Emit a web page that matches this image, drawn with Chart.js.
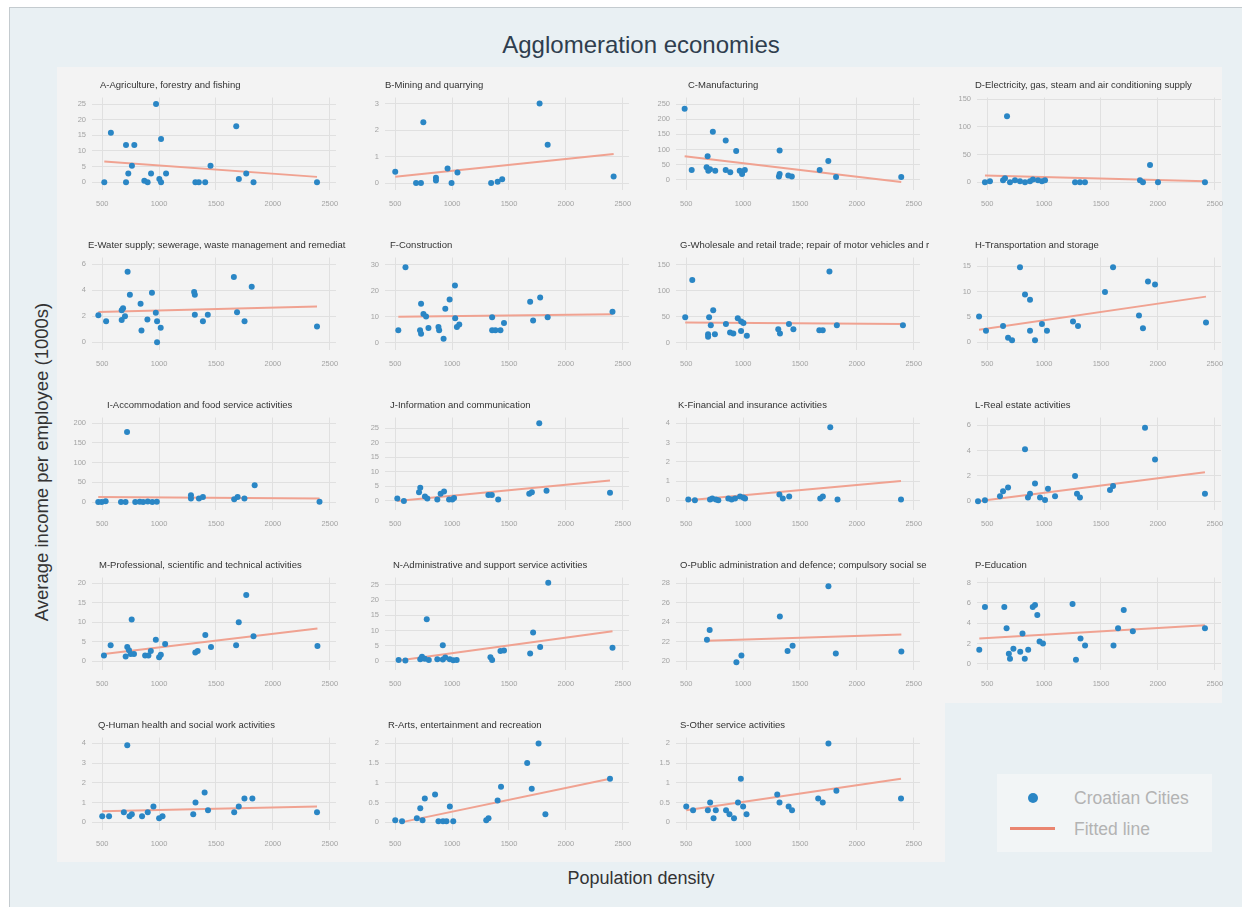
<!DOCTYPE html>
<html><head><meta charset="utf-8">
<script src="https://cdn.jsdelivr.net/npm/chart.js@4.4.0/dist/chart.umd.min.js"></script>
<style>
html,body{margin:0;padding:0;background:#fff;}
body{width:1242px;height:907px;position:relative;overflow:hidden;font-family:"Liberation Sans",Arial,sans-serif;}
#frame{position:absolute;left:9px;top:7px;right:0;bottom:0;background:#e9f0f3;border-left:1px solid #c4cbcf;border-top:1px solid #c4cbcf;}
#gridbg{position:absolute;left:57px;top:67px;width:1165px;height:795px;background:#f3f3f3;}
#empty{position:absolute;left:945px;top:703px;width:277px;height:159px;background:#e9f0f3;}
.ptitle{position:absolute;font-size:9.5px;color:#333;white-space:nowrap;line-height:12px;}
#title{position:absolute;left:0;width:1282px;top:31px;text-align:center;font-size:24px;color:#2f3e4e;}
#ytitle{position:absolute;left:42px;top:462px;transform:translate(-50%,-50%) rotate(-90deg);font-size:18.5px;color:#333;white-space:nowrap;}
#xtitle{position:absolute;left:641px;top:878px;transform:translate(-50%,-50%);font-size:18px;color:#333;white-space:nowrap;}
#legend{position:absolute;left:997px;top:774px;width:215px;height:78px;background:#f2f5f6;}
.lgtext{position:absolute;font-size:17.5px;color:#b3b3b3;white-space:nowrap;transform:translateY(-50%);}
canvas{position:absolute;}
</style>
</head><body>
<div id="frame"></div>
<div id="gridbg"></div>
<div id="empty"></div>
<div id="title">Agglomeration economies</div>
<div id="ytitle">Average income per employee (1000s)</div>
<div id="xtitle">Population density</div>
<div id="legend"></div>
<div style="position:absolute;left:1028px;top:793px;width:10px;height:10px;border-radius:50%;background:#2a86c5;"></div>
<div class="lgtext" style="left:1074px;top:798px;">Croatian Cities</div>
<div style="position:absolute;left:1010px;top:827px;width:45px;height:3px;background:#ea8570;"></div>
<div class="lgtext" style="left:1074px;top:829px;">Fitted line</div>
<script>
// ---------- data ----------
const xTicks = [500, 1000, 1500, 2000, 2500];
const xRange = [410, 2555];

const titles = [
 "A-Agriculture, forestry and fishing","B-Mining and quarrying","C-Manufacturing",
 "D-Electricity, gas, steam and air conditioning supply",
 "E-Water supply; sewerage, waste management and remediat","F-Construction",
 "G-Wholesale and retail trade; repair of motor vehicles and r","H-Transportation and storage",
 "I-Accommodation and food service activities","J-Information and communication",
 "K-Financial and insurance activities","L-Real estate activities",
 "M-Professional, scientific and technical activities","N-Administrative and support service activities",
 "O-Public administration and defence; compulsory social se","P-Education",
 "Q-Human health and social work activities","R-Arts, entertainment and recreation","S-Other service activities"
];

const ptsA = [[518,0],[576,15.8],[709,0],[709,11.9],[729,2.8],[761,5.3],[782,11.9],[870,0.5],[899,0],[929,2.8],[973,25],[1002,1],[1017,0],[1017,13.8],[1061,2.8],[1319,0],[1349,0],[1405,0],[1452,5.3],[1678,17.9],[1701,1],[1766,2.8],[1830,0],[2388,0]];
const fitA = [[518,6.6],[2388,1.7]];
const yTicksA = [0,5,10,15,20,25]; const yRangeA = [-2.5,27.1];

const ptsB = [[500,0.43],[683,0],[726,0],[747,2.3],[858,0.2],[858,0.1],[960,0.55],[995,0],[1047,0.4],[1343,0],[1400,0.05],[1440,0.15],[1769,3.0],[1840,1.45],[2420,0.25]];
const fitB = [[500,0.24],[2420,1.1]];
const yTicksB = [0,1,2,3]; const yRangeB = [-0.26,3.23];

const ptsC = [[486,235],[548,32],[688,78],[679,41],[694,30],[709,35],[755,30],[734,159],[847,130],[847,32],[887,25],[939,95],[970,30],[991,19],[1015,32],[1321,97],[1315,11],[1321,19],[1397,14],[1428,11],[1673,32],[1749,62],[1817,9],[2390,9]];
const fitC = [[486,78],[2390,-7.5]];
const yTicksC = [0,50,100,150,200,250]; const yRangeC = [-34,272];

const ptsD = [[480,0],[524,1.7],[639,3.5],[656,7],[674,119],[700,0],[744,3.5],[788,1.7],[832,0],[876,1.7],[902,5],[946,3.5],[981,1.7],[1008,3.5],[1272,0],[1315,0],[1359,0],[1843,3.5],[1869,0],[1931,31],[2001,0],[2414,0]];
const fitD = [[480,12],[2414,2]];
const yTicksD = [0,50,100,150]; const yRangeD = [-14,153];

const ptsE = [[466,2.07],[534,1.6],[671,2.45],[683,2.6],[700,2.0],[671,1.7],[723,5.4],[743,3.65],[837,2.95],[897,1.75],[937,3.8],[971,2.25],[982,1.6],[845,0.9],[982,0],[1014,1.1],[1314,3.65],[1308,3.85],[1314,2.1],[1428,2.1],[1385,1.6],[1657,5.0],[1685,2.3],[1751,1.6],[1814,4.25],[2388,1.2]];
const fitE = [[466,2.31],[2388,2.73]];
const yTicksE = [0,2,4,6]; const yRangeE = [-0.6,6.5];

const ptsF = [[590,29],[1025,22],[978,16.6],[940,13.1],[727,15],[748,11.1],[771,10.1],[1027,9.4],[1352,9.8],[527,4.8],[718,4.8],[727,3.5],[792,5.7],[880,6.1],[886,4.8],[925,1.5],[1042,6.1],[1063,7],[1352,4.8],[1381,4.8],[1425,4.8],[1456,7.6],[1686,15.8],[1774,17.4],[1712,8.6],[1840,9.8],[2410,11.9]];
const fitF = [[527,10],[2410,11]];
const yTicksF = [0,10,20,30]; const yRangeF = [-2.8,32.8];

const ptsG = [[553,120.6],[1759,137],[491,49],[701,49],[737,62.5],[953,47],[983,41],[716,33.6],[692,16.5],[692,11.6],[752,16.5],[849,36],[885,19.5],[914,17.6],[982,22.6],[1033,13.4],[1003,38],[1309,25.7],[1324,17.6],[1403,36],[1442,25.7],[1670,24],[1700,24],[1824,33.6],[2405,33.6]];
const fitG = [[491,39],[2405,36]];
const yTicksG = [0,50,100,150]; const yRangeG = [-14,164];

const ptsH = [[428,5.1],[489,2.3],[639,3.2],[683,0.9],[718,0.4],[788,14.8],[832,9.4],[876,8.4],[876,2.3],[920,0.4],[981,3.6],[1025,2.3],[1254,4.1],[1298,3.2],[1535,9.9],[1606,14.8],[1834,5.3],[1869,2.8],[1913,12],[1975,11.4],[2423,3.9]];
const fitH = [[428,2.5],[2423,9]];
const yTicksH = [0,5,10,15]; const yRangeH = [-1.5,16.7];

const ptsI = [[465,0],[495,0],[530,2],[665,0],[705,0],[790,0.5],[830,1],[860,0.5],[900,1.5],[940,0.5],[980,1],[1280,17],[1280,9],[1350,9],[1385,13],[1660,7],[1690,13],[1750,9],[1840,42.6],[2410,0.7],[718,177.6]];
const fitI = [[465,12.8],[2410,9]];
const yTicksI = [0,50,100,150,200]; const yRangeI = [-20,214];

const ptsJ = [[518,0.8],[576,0],[709,3],[720,4.5],[761,1.5],[782,0.8],[870,0.5],[899,2.5],[929,3.2],[973,0.5],[1002,0.5],[1017,1],[1319,2],[1349,2],[1405,0.5],[1678,2.5],[1701,3],[1766,26.6],[1830,3.5],[2388,2.8]];
const fitJ = [[518,0],[2388,7]];
const yTicksJ = [0,5,10,15,20,25]; const yRangeJ = [-3.1,28.6];

const ptsK = [[518,0.05],[576,0],[709,0.05],[729,0.1],[761,0.05],[782,0],[870,0.1],[899,0.05],[929,0.1],[973,0.2],[1002,0.15],[1017,0.1],[1319,0.3],[1349,0.1],[1405,0.2],[1678,0.1],[1701,0.2],[1766,3.8],[1830,0.05],[2388,0.05]];
const fitK = [[518,0],[2388,1]];
const yTicksK = [0,1,2,3,4]; const yRangeK = [-0.5,4.3];

const ptsL = [[419,0],[480,0.08],[612,0.4],[639,0.8],[683,1.1],[832,4.1],[858,0.3],[876,0.6],[920,1.4],[964,0.3],[1008,0.1],[1034,1],[1096,0.4],[1272,2],[1289,0.6],[1315,0.3],[1579,0.9],[1606,1.2],[1887,5.8],[1975,3.3],[2414,0.6]];
const fitL = [[419,0],[2414,2.3]];
const yTicksL = [0,2,4,6]; const yRangeL = [-0.68,6.6];

const ptsM = [[515,1.4],[574,4.1],[706,1.2],[720,3.6],[735,2.8],[759,10.7],[750,1.8],[779,1.8],[877,1.4],[906,1.4],[927,2.6],[971,5.5],[1000,1],[1015,1.6],[1053,4.4],[1318,2.2],[1339,2.6],[1406,6.7],[1456,3.6],[1677,4.1],[1700,10],[1766,17],[1830,6.4],[2392,3.9]];
const fitM = [[515,1.8],[2392,8.4]];
const yTicksM = [0,5,10,15,20]; const yRangeM = [-2.3,21.5];

const ptsN = [[530,0.4],[589,0.2],[720,0.6],[735,1.4],[760,0.8],[795,0.4],[777,13.7],[918,5.2],[870,0.6],[918,0.5],[940,1.2],[980,0.6],[1010,0.3],[1040,0.4],[1337,1.3],[1352,0.4],[1425,3.3],[1456,3.5],[1686,2.5],[1712,9.4],[1774,4.6],[1845,25.7],[2410,4.4]];
const fitN = [[530,0.2],[2410,9.8]];
const yTicksN = [0,5,10,15,20,25]; const yRangeN = [-2.9,27.4];

const ptsO = [[682,22.2],[706,23.2],[1323,24.6],[941,19.9],[985,20.6],[1391,21.05],[1435,21.6],[1750,27.7],[1815,20.8],[2391,21]];
const fitO = [[682,22.1],[2391,22.75]];
const yTicksO = [20,22,24,26,28]; const yRangeO = [19.1,28.6];

const ptsP = [[430,1.4],[480,5.6],[650,5.6],[670,3.5],[690,1],[700,0.5],[730,1.5],[790,1.2],[810,3],[830,0.5],[860,1.4],[900,5.6],[920,5.8],[940,4.8],[960,2.2],[990,2],[1250,5.9],[1280,0.4],[1320,2.5],[1360,1.8],[1610,1.8],[1650,3.5],[1700,5.3],[1780,3.2],[2414,3.5]];
const fitP = [[430,2.5],[2414,3.8]];
const yTicksP = [0,2,4,6,8]; const yRangeP = [-0.6,8.5];

const ptsQ = [[500,0.3],[560,0.3],[690,0.5],[720,3.9],[740,0.3],[760,0.4],[850,0.3],[900,0.5],[950,0.8],[1000,0.2],[1030,0.3],[1300,0.4],[1320,1],[1400,1.5],[1430,0.6],[1660,0.5],[1700,0.8],[1750,1.2],[1820,1.2],[2388,0.5]];
const fitQ = [[500,0.55],[2388,0.8]];
const yTicksQ = [0,1,2,3,4]; const yRangeQ = [-0.4,4.3];

const ptsR = [[500,0.05],[560,0.02],[690,0.1],[720,0.35],[740,0.05],[760,0.6],[850,0.7],[880,0.02],[920,0.02],[950,0.02],[980,0.4],[1010,0.02],[1300,0.05],[1320,0.1],[1400,0.55],[1430,0.9],[1660,1.5],[1700,0.85],[1760,2.0],[1820,0.2],[2388,1.1]];
const fitR = [[560,0],[2388,1.1]];
const yTicksR = [0,0.5,1,1.5,2]; const yRangeR = [-0.2,2.15];

const ptsS = [[500,0.4],[560,0.3],[690,0.3],[710,0.5],[740,0.1],[760,0.3],[850,0.3],[880,0.2],[920,0.1],[955,0.5],[980,1.1],[1000,0.4],[1030,0.2],[1300,0.7],[1320,0.5],[1400,0.4],[1430,0.3],[1660,0.6],[1700,0.5],[1750,2.0],[1820,0.8],[2388,0.6]];
const fitS = [[500,0.3],[2388,1.1]];
const yTicksS = [0,0.5,1,1.5,2]; const yRangeS = [-0.2,2.15];

// ---------- layout ----------
const colLeft = [92, 385, 676, 977];
const rowTop = [93, 253, 413, 573, 733];
const PW = 244, PH = 97;
const titleX = [100,385,688,975, 88,390,680,975, 107,390,678,975, 99,393,680,975, 98,388,680];

const panels = [
 [ptsA,fitA,yTicksA,yRangeA],[ptsB,fitB,yTicksB,yRangeB],[ptsC,fitC,yTicksC,yRangeC],[ptsD,fitD,yTicksD,yRangeD],
 [ptsE,fitE,yTicksE,yRangeE],[ptsF,fitF,yTicksF,yRangeF],[ptsG,fitG,yTicksG,yRangeG],[ptsH,fitH,yTicksH,yRangeH],
 [ptsI,fitI,yTicksI,yRangeI],[ptsJ,fitJ,yTicksJ,yRangeJ],[ptsK,fitK,yTicksK,yRangeK],[ptsL,fitL,yTicksL,yRangeL],
 [ptsM,fitM,yTicksM,yRangeM],[ptsN,fitN,yTicksN,yRangeN],[ptsO,fitO,yTicksO,yRangeO],[ptsP,fitP,yTicksP,yRangeP],
 [ptsQ,fitQ,yTicksQ,yRangeQ],[ptsR,fitR,yTicksR,yRangeR],[ptsS,fitS,yTicksS,yRangeS]
];

Chart.defaults.font.family = '"Liberation Sans", Arial, sans-serif';
const toXY = a => a.map(p => ({x:p[0], y:p[1]}));
const tickFont = {size:7.5};
const tickColor = '#a3a3a3';
const gridColor = '#e0e0e0';

panels.forEach((p, i) => {
  const [pts, fit, yt, yr] = p;
  const r = Math.floor(i/4), c = i % 4;
  const L = colLeft[c], T = rowTop[r];
  const cv = document.createElement('canvas');
  cv.width = 30 + PW + 14; cv.height = 6 + PH + 22;
  cv.style.left = (L - 30) + 'px'; cv.style.top = (T - 6) + 'px';
  cv.style.width = cv.width + 'px'; cv.style.height = cv.height + 'px';
  document.body.appendChild(cv);
  const t = document.createElement('div');
  t.className = 'ptitle'; t.textContent = titles[i];
  t.style.left = titleX[i] + 'px'; t.style.top = (T - 14) + 'px';
  document.body.appendChild(t);
  new Chart(cv, {
    type: 'scatter',
    data: { datasets: [
      { type:'line', data: toXY(fit), borderColor:'#f0a291', borderWidth:2, pointRadius:0, order:2, clip:false },
      { data: toXY(pts), backgroundColor:'#2a86c5', borderWidth:0, pointRadius:3, order:1, clip:false }
    ]},
    options: {
      responsive:false, animation:false, devicePixelRatio:1,
      plugins:{ legend:{display:false}, tooltip:{enabled:false} },
      layout:{ padding:{left:0, top:6, right:14, bottom:0} },
      scales:{
        x:{ type:'linear', min:xRange[0], max:xRange[1],
            afterBuildTicks: s => { s.ticks = xTicks.map(v => ({value:v})); },
            afterFit: s => { s.height = 22; },
            grid:{ color:gridColor, drawTicks:false }, border:{display:false},
            ticks:{ padding:9, color:tickColor, font:tickFont, maxRotation:0, callback: v => String(v) } },
        y:{ type:'linear', min:yr[0], max:yr[1],
            afterBuildTicks: s => { s.ticks = yt.map(v => ({value:v})); },
            afterFit: s => { s.width = 30; },
            grid:{ color:gridColor, drawTicks:false }, border:{display:false},
            ticks:{ padding:6, color:tickColor, font:tickFont, callback: v => String(v) } }
      }
    }
  });
});
</script>
</body></html>
